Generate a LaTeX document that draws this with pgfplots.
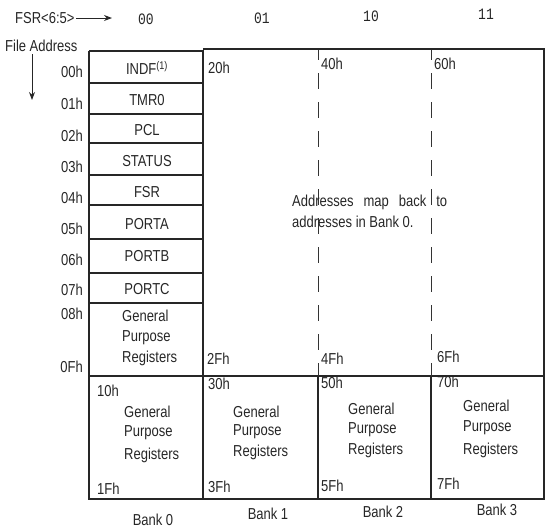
\documentclass[border=0pt]{standalone}
\usepackage{pgfplots}
\pgfplotsset{compat=1.18}
\usepackage{fontspec}
\setmainfont{Liberation Sans}
\newfontfamily\monofont{Liberation Mono}
\usetikzlibrary{arrows.meta}
% the scanned lettering is a little taller than Arial
\newcommand\tx[1]{\scalebox{1}[1.22]{#1}}
\begin{document}
\begin{tikzpicture}[every node/.style={font=\fontsize{13}{15}\selectfont, text=black!85, inner sep=0pt}]
\begin{axis}[
    width=547pt, height=531pt, scale only axis,
    xmin=0, xmax=547, ymin=0, ymax=531, y dir=reverse,
    hide axis, clip=false,
    cycle list={{black!85, solid, no markers}},
    every axis plot/.append style={no markers, line width=1.4pt},
]
% bank 0 column and its rows
\addplot[black!85] coordinates {(89,51) (203,51) (203,499) (89,499) (89,51)};
\addplot[black!85, line width=1.2pt] coordinates {(89,83) (203,83)};
\addplot[black!85, line width=1.2pt] coordinates {(89,114) (203,114)};
\addplot[black!85, line width=1.2pt] coordinates {(89,143) (203,143)};
\addplot[black!85, line width=1.2pt] coordinates {(89,175) (203,175)};
\addplot[black!85, line width=1.2pt] coordinates {(89,205) (203,205)};
\addplot[black!85, line width=1.2pt] coordinates {(89,239) (203,239)};
\addplot[black!85, line width=1.2pt] coordinates {(89,273) (203,273)};
\addplot[black!85, line width=1.2pt] coordinates {(89,303) (203,303)};
% banks 1-3
\addplot[black!85] coordinates {(203,49) (544,49) (544,499) (203,499)};
\addplot[black!85] coordinates {(89,376) (544,376)};
\addplot[black!85] coordinates {(318,376) (318,499)};
\addplot[black!85] coordinates {(431,376) (431,499)};
\addplot[black!80, line width=0.9pt, dash pattern=on 16pt off 13pt, dash phase=6pt] coordinates {(318,50) (318,376)};
\addplot[black!80, line width=0.9pt, dash pattern=on 16pt off 13pt, dash phase=6pt] coordinates {(431,50) (431,376)};
% arrows
\addplot[black!85, line width=1pt, -{Stealth[length=8pt,width=6pt]}] coordinates {(76,18) (112,18)};
\addplot[black!85, line width=1pt, -{Stealth[length=8pt,width=6pt]}] coordinates {(32,54) (32,100)};

% header
\node[anchor=west] at (15,18) {\tx{FSR<6:5>}};
\node[anchor=west] at (5,46) {\tx{File Address}};
\node at (146,19) {\monofont\tx{00}};
\node at (262,18) {\monofont\tx{01}};
\node at (371,16) {\monofont\tx{10}};
\node at (486,14) {\monofont\tx{11}};

% file addresses
\node[anchor=east] at (83,72) {\tx{00h}};
\node[anchor=east] at (83,104) {\tx{01h}};
\node[anchor=east] at (83,136) {\tx{02h}};
\node[anchor=east] at (83,167) {\tx{03h}};
\node[anchor=east] at (83,198) {\tx{04h}};
\node[anchor=east] at (83,229) {\tx{05h}};
\node[anchor=east] at (83,260) {\tx{06h}};
\node[anchor=east] at (83,290) {\tx{07h}};
\node[anchor=east] at (83,314) {\tx{08h}};
\node[anchor=east] at (83,367) {\tx{0Fh}};

% bank 0 registers
\node at (147,68) {\tx{INDF\textsuperscript{(1)}}};
\node at (147,100) {\tx{TMR0}};
\node at (147,130) {\tx{PCL}};
\node at (147,161) {\tx{STATUS}};
\node at (147,192) {\tx{FSR}};
\node at (147,224) {\tx{PORTA}};
\node at (147,256) {\tx{PORTB}};
\node at (147,289) {\tx{PORTC}};
\node[anchor=west] at (122,316) {\tx{General}};
\node[anchor=west] at (122,338) {\tx{Purpose}};
\node[anchor=west] at (122,358) {\tx{Registers}};

% upper part of banks 1-3
\node[anchor=west] at (208,68) {\tx{20h}};
\node[anchor=west] at (321,64) {\tx{40h}};
\node[anchor=west] at (434,64) {\tx{60h}};
\node[anchor=west] at (207,359) {\tx{2Fh}};
\node[anchor=west] at (321,359) {\tx{4Fh}};
\node[anchor=west] at (437,357) {\tx{6Fh}};
\node[anchor=west] at (292,202) {\tx{\makebox[155pt][s]{Addresses map back to}}};
\node[anchor=west] at (292,222) {\tx{addresses in Bank 0.}};

% lower row
\node[anchor=west] at (97,391) {\tx{10h}};
\node[anchor=west] at (97,489) {\tx{1Fh}};
\node[anchor=west] at (124,412) {\tx{General}};
\node[anchor=west] at (124,433) {\tx{Purpose}};
\node[anchor=west] at (124,455) {\tx{Registers}};
\node[anchor=west] at (208,384) {\tx{30h}};
\node[anchor=west] at (208,487) {\tx{3Fh}};
\node[anchor=west] at (233,412) {\tx{General}};
\node[anchor=west] at (233,432) {\tx{Purpose}};
\node[anchor=west] at (233,452) {\tx{Registers}};
\node[anchor=west] at (321,383) {\tx{50h}};
\node[anchor=west] at (321,486) {\tx{5Fh}};
\node[anchor=west] at (348,409) {\tx{General}};
\node[anchor=west] at (348,430) {\tx{Purpose}};
\node[anchor=west] at (348,450) {\tx{Registers}};
\node[anchor=west] at (437,382) {\tx{70h}};
\node[anchor=west] at (437,484) {\tx{7Fh}};
\node[anchor=west] at (463,406) {\tx{General}};
\node[anchor=west] at (463,428) {\tx{Purpose}};
\node[anchor=west] at (463,450) {\tx{Registers}};

% bank names
\node at (153,520) {\tx{Bank 0}};
\node at (268,514) {\tx{Bank 1}};
\node at (383,512) {\tx{Bank 2}};
\node at (497,510) {\tx{Bank 3}};
\end{axis}
\pgfresetboundingbox
\path[use as bounding box] (current axis.south west) rectangle (current axis.north east);
\end{tikzpicture}
\end{document}
